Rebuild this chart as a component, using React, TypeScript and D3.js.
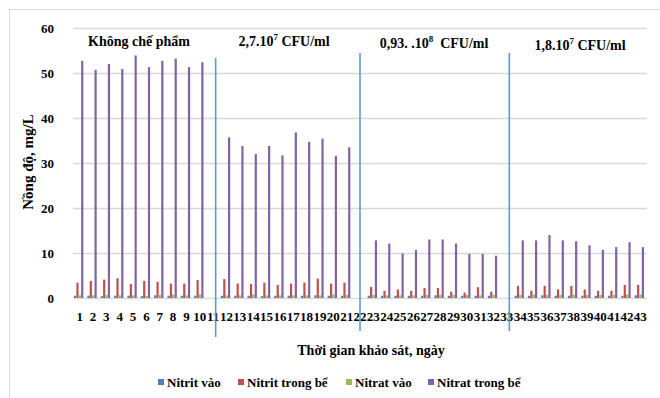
import { useEffect, useRef } from "react";
import * as d3 from "d3";

// days 1..43; 11, 22 and 33 are the separator slots (no data)
const days = d3.range(1, 44).map(String);
const separators = ["11", "22", "33"];

const nitritVao = [
  0.5, 0.5, 0.4, 0.5, 0.5, 0.4, 0.6, 0.5, 0.5, 0.5, null,
  0.5, 0.5, 0.5, 0.4, 0.5, 0.5, 0.5, 0.6, 0.5, 0.5, null,
  0.5, 0.5, 0.5, 0.5, 0.5, 0.6, 0.5, 0.5, 0.5, 0.5, null,
  0.5, 0.5, 0.6, 0.5, 0.5, 0.5, 0.5, 0.5, 0.5, 0.6,
];
const nitritTrongBe = [
  3.4, 3.8, 4.1, 4.4, 3.1, 3.8, 3.6, 3.2, 3.2, 4.0, null,
  4.2, 3.2, 3.1, 3.4, 2.9, 3.2, 3.4, 4.3, 3.2, 3.4, null,
  2.5, 1.6, 1.9, 1.6, 2.2, 2.2, 1.4, 1.2, 2.4, 1.4, null,
  2.7, 1.6, 2.7, 1.9, 2.7, 1.9, 1.6, 1.6, 2.9, 2.9,
];
const nitratVao = [
  0.6, 0.6, 0.7, 0.6, 0.6, 0.5, 0.7, 0.8, 0.6, 0.8, null,
  0.6, 0.6, 0.8, 0.6, 0.6, 0.6, 0.6, 0.6, 0.8, 0.7, null,
  0.7, 0.6, 0.6, 0.6, 0.7, 0.7, 0.7, 0.7, 0.6, 0.7, null,
  0.7, 0.8, 0.7, 0.7, 0.7, 0.7, 0.7, 0.7, 0.8, 0.8,
];
const nitratTrongBe = [
  52.7, 50.7, 52.0, 50.9, 53.9, 51.3, 52.7, 53.2, 51.3, 52.4, null,
  35.7, 33.8, 32.0, 33.8, 31.7, 36.8, 34.7, 35.4, 31.6, 33.5, null,
  12.8, 12.1, 9.9, 10.7, 13.0, 13.0, 12.1, 9.8, 9.8, 9.4, null,
  12.8, 12.8, 14.0, 12.8, 12.6, 11.7, 10.7, 11.3, 12.4, 11.3,
];

const seriesNames = ["Nitrit vào", "Nitrit trong bể", "Nitrat vào", "Nitrat trong bể"];
const seriesValues = [nitritVao, nitritTrongBe, nitratVao, nitratTrongBe];
const colors = ["#4f81bd", "#c0504d", "#9bbb59", "#8064a2"];
const yTicks = [0, 10, 20, 30, 40, 50, 60];

const font = "'Liberation Serif', 'Times New Roman', serif";

export default function App() {
  const ref = useRef<SVGSVGElement>(null);

  useEffect(() => {
    const svg = d3.select(ref.current);
    svg.selectAll("*").remove();

    const W = 660;
    const H = 398;
    const left = 73;
    const right = 647;
    const top = 28;
    const bottom = 298;

    svg.attr("width", W).attr("height", H).attr("font-family", font);

    svg.append("rect").attr("width", W).attr("height", H).attr("fill", "#fff");
    // outer chart border (cropped at right/bottom)
    svg
      .append("rect")
      .attr("x", 9.5)
      .attr("y", 9.5)
      .attr("width", 800)
      .attr("height", 600)
      .attr("fill", "none")
      .attr("stroke", "#d9d9d9");

    const x = d3.scaleBand().domain(days).range([left, right]).paddingInner(0).paddingOuter(0);
    const sub = d3
      .scaleBand()
      .domain(seriesNames)
      .range([0, x.bandwidth() * 0.7])
      .paddingInner(0.08);
    const y = d3.scaleLinear().domain([0, 60]).range([bottom, top]);

    // gridlines
    svg
      .append("g")
      .selectAll("line")
      .data(yTicks)
      .enter()
      .append("line")
      .attr("x1", left)
      .attr("x2", right)
      .attr("y1", (d) => Math.round(y(d)) + 0.5)
      .attr("y2", (d) => Math.round(y(d)) + 0.5)
      .attr("stroke", "#d9d9d9")
      .attr("stroke-width", 1.3);

    // y tick labels
    svg
      .append("g")
      .selectAll("text")
      .data(yTicks)
      .enter()
      .append("text")
      .attr("x", 54)
      .attr("y", (d) => y(d) + 4.5)
      .attr("text-anchor", "end")
      .attr("font-size", 13)
      .attr("font-weight", "bold")
      .text((d) => d);

    // bars
    const offset = (x.bandwidth() - x.bandwidth() * 0.7) / 2 - 1;
    seriesValues.forEach((vals, si) => {
      svg
        .append("g")
        .selectAll("rect")
        .data(vals.map((v, i) => ({ day: days[i], v })).filter((d) => d.v != null))
        .enter()
        .append("rect")
        .attr("x", (d) => (x(d.day) as number) + offset + (sub(seriesNames[si]) as number))
        .attr("width", sub.bandwidth())
        .attr("y", (d) => y(d.v as number))
        .attr("height", (d) => bottom - y(d.v as number))
        .attr("fill", colors[si]);
    });

    // x tick labels
    svg
      .append("g")
      .selectAll("text")
      .data(days)
      .enter()
      .append("text")
      .attr("x", (d) => (x(d) as number) + x.bandwidth() / 2)
      .attr("y", 321)
      .attr("text-anchor", "middle")
      .attr("font-size", 13)
      .attr("font-weight", "bold")
      .text((d) => d);

    // separator lines between treatments
    svg
      .append("g")
      .selectAll("line")
      .data(separators)
      .enter()
      .append("line")
      .attr("x1", (d, i) => (x(d) as number) + x.bandwidth() / 2 + (i === 1 ? 0 : 2.5))
      .attr("x2", (d, i) => (x(d) as number) + x.bandwidth() / 2 + (i === 1 ? 0 : 2.5))
      .attr("y1", (d, i) => (i === 0 ? 58 : 53))
      .attr("y2", (d, i) => (i === 0 ? 337 : 331))
      .attr("stroke", "#5b9bd5")
      .attr("stroke-width", 1.6);

    // treatment titles
    const titles = [
      { cx: 139, cy: 46, parts: [["Không chế phẩm", false]] },
      { cx: 284, cy: 46, parts: [["2,7.10", false], ["7", true], [" CFU/ml", false]] },
      { cx: 434, cy: 48, parts: [["0,93. .10", false], ["8", true], ["  CFU/ml", false]] },
      { cx: 580, cy: 50, parts: [["1,8.10", false], ["7", true], [" CFU/ml", false]] },
    ];
    titles.forEach((t) => {
      const txt = svg
        .append("text")
        .attr("x", t.cx)
        .attr("y", t.cy)
        .attr("text-anchor", "middle")
        .attr("font-size", 14)
        .attr("font-weight", "bold")
        .style("white-space", "pre");
      t.parts.forEach(([s, sup]) => {
        const ts = txt.append("tspan").text(s as string);
        if (sup) ts.attr("font-size", 9).attr("dy", -6);
        else if (s !== t.parts[0][0]) ts.attr("dy", 6);
      });
    });

    // axis titles
    svg
      .append("text")
      .attr("transform", "translate(33,162) rotate(-90)")
      .attr("text-anchor", "middle")
      .attr("font-size", 15)
      .attr("font-weight", "bold")
      .text("Nồng độ, mg/L");

    svg
      .append("text")
      .attr("x", 371)
      .attr("y", 355)
      .attr("text-anchor", "middle")
      .attr("font-size", 14)
      .attr("font-weight", "bold")
      .text("Thời gian khảo sát, ngày");

    // legend
    const legendX = [158, 238, 346, 428];
    const lg = svg
      .append("g")
      .selectAll("g")
      .data(seriesNames)
      .enter()
      .append("g")
      .attr("transform", (d, i) => `translate(${legendX[i]},383)`);
    lg.append("rect")
      .attr("x", 0)
      .attr("y", -4)
      .attr("width", 6)
      .attr("height", 6)
      .attr("fill", (d, i) => colors[i]);
    lg.append("text")
      .attr("x", 9)
      .attr("y", 4)
      .attr("font-size", 13)
      .attr("font-weight", "bold")
      .text((d) => d);
  }, []);

  return (
    <div style={{ position: "absolute", left: 0, top: 0 }}>
      <svg ref={ref}></svg>
    </div>
  );
}
